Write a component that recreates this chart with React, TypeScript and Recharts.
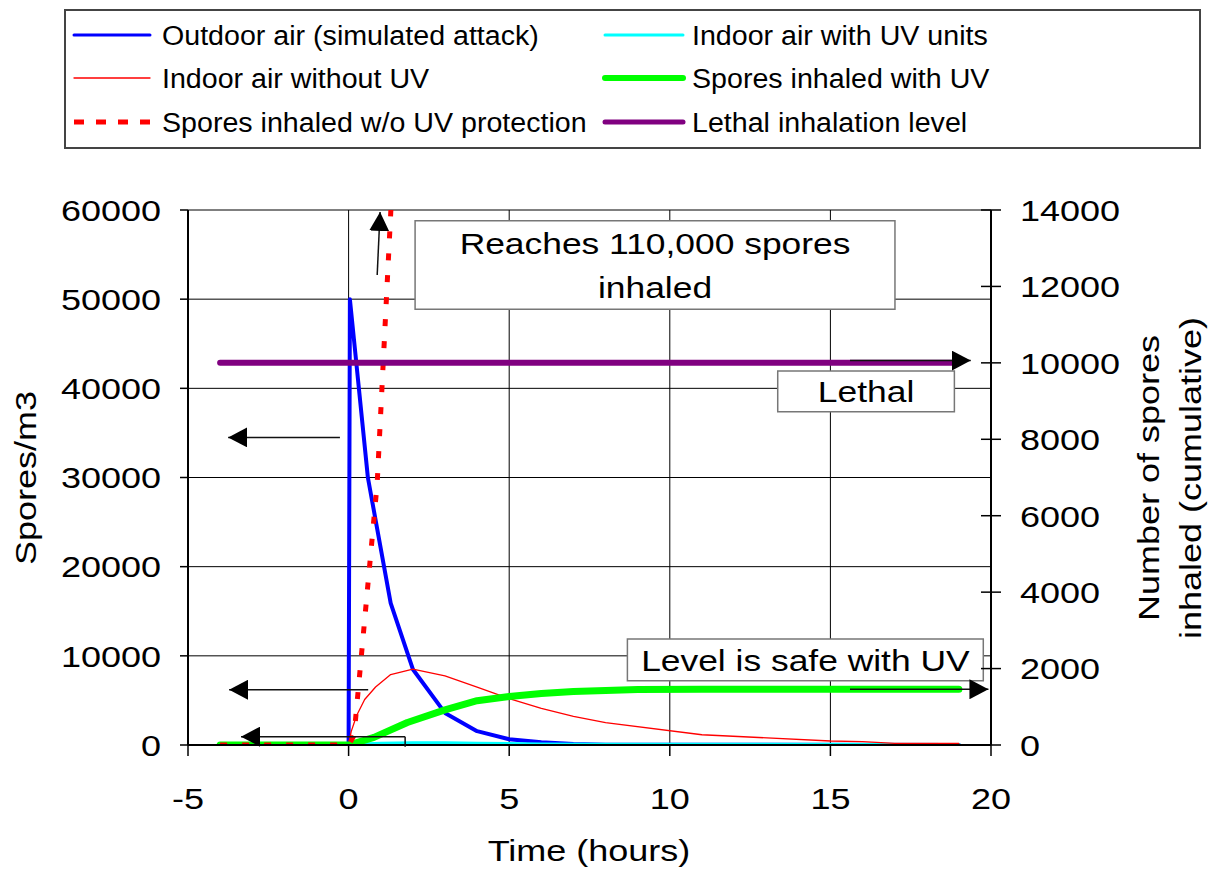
import {
  ComposedChart,
  Line,
  XAxis,
  YAxis,
  CartesianGrid,
  ReferenceLine,
  ReferenceArea,
} from "recharts";

const FONT = "'Liberation Sans', Arial, Helvetica, sans-serif";
// the original text is drawn slightly wide, so every label gets a horizontal stretch
const STRETCH = 1.2;

const timeTicks = [-5, 0, 5, 10, 15, 20];
const concTicks = [0, 10000, 20000, 30000, 40000, 50000, 60000];
const inhaledTicks = [0, 2000, 4000, 6000, 8000, 10000, 12000, 14000];

// Outdoor air (simulated attack), spores/m3
const outdoorT = [-4, 0, 0.04, 0.6, 1.31, 2, 3, 4, 5, 6, 7, 8, 19];
const outdoorV = [0, 0, 50000, 30000, 15900, 8500, 3600, 1550, 650, 300, 100, 30, 0];

// Indoor air with UV units, spores/m3
const indoorUvT = [-4, 0, 1, 2, 3, 4, 5, 6, 8, 19];
const indoorUvV = [0, 0, 150, 200, 200, 150, 100, 60, 30, 10];

// Indoor air without UV, spores/m3
const indoorT = [-4, 0, 0.08, 0.25, 0.5, 0.84, 1.31, 2, 3, 4, 5, 6, 7, 8, 11, 15, 16, 17, 19];
const indoorV = [0, 0, 1500, 3300, 5100, 6500, 7900, 8500, 7750, 6500, 5200, 4100, 3200, 2500, 1150, 450, 380, 190, 180];

// Spores inhaled with UV (cumulative)
const inhaledUvT = [-4, 0, 0.79, 1.83, 3, 4, 5, 6, 7, 9, 11, 19];
const inhaledUvV = [0, 0, 200, 590, 920, 1160, 1270, 1350, 1400, 1450, 1460, 1460];

// Spores inhaled w/o UV protection (cumulative), runs off the top towards 110,000
const inhaledT = [-4, 0, 0.17, 0.89, 1.31, 2, 3, 4, 5, 7, 10, 19];
const inhaledV = [0, 0, 250, 6850, 13900, 26000, 42000, 58000, 72000, 90000, 103000, 110000];

// Lethal inhalation level
const lethalT = [-4, 19];
const lethalV = [10000, 10000];

// annotation arrows [t1, v1, t2, v2], head on the second point
const leftArrows = [
  [-0.27, 34500, -3.75, 34500],
  [0.61, 6200, -3.72, 6200],
  [1.76, 930, -3.35, 930],
];
const rightArrows = [
  [0.89, 12300, 0.98, 13950],
  [15.61, 10060, 19.37, 10060],
  [15.61, 1458, 19.92, 1458],
];

const toPoints = (t: number[], v: number[]) => t.map((x, i) => ({ t: x, v: v[i] }));

const series = [
  { name: "Outdoor air (simulated attack)", t: outdoorT, v: outdoorV, axis: "left", color: "#0000FF", width: 4, dash: undefined },
  { name: "Indoor air with UV units", t: indoorUvT, v: indoorUvV, axis: "left", color: "#00FFFF", width: 4, dash: undefined },
  { name: "Indoor air without UV", t: indoorT, v: indoorV, axis: "left", color: "#FF0000", width: 1.3, dash: undefined },
  { name: "Spores inhaled with UV", t: inhaledUvT, v: inhaledUvV, axis: "right", color: "#00FF00", width: 7, dash: undefined },
  { name: "Spores inhaled w/o UV protection", t: inhaledT, v: inhaledV, axis: "right", color: "#FF0000", width: 5, dash: "7 15" },
  { name: "Lethal inhalation level", t: lethalT, v: lethalV, axis: "right", color: "#800080", width: 6, dash: undefined },
];

function SText({ x, y, children, anchor = "middle", size = 30, sx = STRETCH, rotate = 0 }: any) {
  return (
    <text
      transform={`translate(${x},${y}) rotate(${rotate}) scale(${sx},1)`}
      x={0}
      y={size * 0.36}
      textAnchor={anchor}
      fontFamily={FONT}
      fontSize={size}
      fill="#000"
    >
      {children}
    </text>
  );
}

const LeftTick = ({ x, y, payload }: any) => (
  <g>
    <line x1={x - 8} x2={x} y1={y} y2={y} stroke="#000" strokeWidth={1.5} />
    <SText x={x - 27} y={y} anchor="end">{payload.value}</SText>
  </g>
);

const RightTick = ({ x, y, payload }: any) => (
  <g>
    <line x1={x - 10} x2={x + 10} y1={y} y2={y} stroke="#000" strokeWidth={1.5} />
    <SText x={x + 29} y={y} anchor="start">{payload.value}</SText>
  </g>
);

const BottomTick = ({ x, y, payload }: any) => (
  <g>
    <line x1={x} x2={x} y1={y} y2={y + 11} stroke="#000" strokeWidth={1.5} />
    <SText x={x} y={y + 53} anchor="middle">{payload.value}</SText>
  </g>
);

const arrowShape = (p: any) => (
  <line x1={p.x1} y1={p.y1} x2={p.x2} y2={p.y2} stroke="#111" strokeWidth={1.5} markerEnd="url(#arrowHead)" />
);

const boxLabel = (lines: string[]) => (p: any) => {
  const vb = p.viewBox;
  const cx = vb.x + vb.width / 2;
  const cy = vb.y + vb.height / 2;
  return (
    <g>
      {lines.map((s, i) => (
        <SText key={s} x={cx} y={cy + (i - (lines.length - 1) / 2) * 44} sx={1.18}>{s}</SText>
      ))}
    </g>
  );
};

function LegendBox() {
  const rows = [35, 78, 122];
  const cols = [
    { x1: 74, x2: 150, tx: 162 },
    { x1: 605, x2: 683, tx: 692 },
  ];
  return (
    <svg width={1211} height={160} style={{ position: "absolute", left: 0, top: 0 }}>
      <rect x={65} y={10} width={1135} height={138} fill="#fff" stroke="#444" strokeWidth={2} />
      {series.map((s, i) => {
        const c = cols[i % 2];
        const y = rows[Math.floor(i / 2)];
        return (
          <g key={s.name}>
            <line
              x1={c.x1}
              x2={c.x2}
              y1={y}
              y2={y}
              stroke={s.color}
              strokeWidth={s.dash ? 5 : Math.max(s.width - 1, 1.3)}
              strokeDasharray={s.dash ? "10 12" : undefined}
              strokeLinecap={s.dash ? "butt" : "round"}
            />
            <SText x={c.tx} y={y} anchor="start" size={27} sx={1.06}>{s.name}</SText>
          </g>
        );
      })}
    </svg>
  );
}

export default function App() {
  return (
    <div style={{ position: "absolute", left: 0, top: 0, width: 1211, height: 872, background: "#fff" }}>
      <ComposedChart
        width={1211}
        height={872}
        margin={{ top: 210, right: 90, bottom: 67, left: 68 }}
        style={{ fontFamily: FONT }}
      >
        <defs>
          <marker
            id="arrowHead"
            markerUnits="userSpaceOnUse"
            markerWidth={20}
            markerHeight={20}
            refX={19}
            refY={10}
            orient="auto"
          >
            <path d="M0,0 L19,10 L0,20 Z" fill="#000" />
          </marker>
        </defs>
        <CartesianGrid yAxisId="left" stroke="#000" strokeWidth={1} />
        <XAxis
          type="number"
          dataKey="t"
          domain={[-5, 20]}
          ticks={timeTicks}
          interval={0}
          allowDataOverflow
          height={60}
          tickSize={0}
          tickMargin={0}
          tickLine={false}
          axisLine={{ stroke: "#000", strokeWidth: 2 }}
          tick={(p: any) => <BottomTick {...p} />}
          label={{ content: () => <SText x={589} y={850}>Time (hours)</SText> }}
        />
        <YAxis
          yAxisId="left"
          type="number"
          domain={[0, 60000]}
          ticks={concTicks}
          interval={0}
          allowDataOverflow
          width={120}
          tickSize={0}
          tickMargin={0}
          tickLine={false}
          axisLine={{ stroke: "#000", strokeWidth: 2 }}
          tick={(p: any) => <LeftTick {...p} />}
          label={{ content: () => <SText x={25} y={478} rotate={-90}>Spores/m3</SText> }}
        />
        <YAxis
          yAxisId="right"
          orientation="right"
          type="number"
          domain={[0, 14000]}
          ticks={inhaledTicks}
          interval={0}
          allowDataOverflow
          width={130}
          tickSize={0}
          tickMargin={0}
          tickLine={false}
          axisLine={{ stroke: "#000", strokeWidth: 2 }}
          tick={(p: any) => <RightTick {...p} />}
          label={{
            content: () => (
              <g>
                <SText x={1148} y={478} rotate={-90}>Number of spores</SText>
                <SText x={1190} y={478} rotate={-90}>inhaled (cumulative)</SText>
              </g>
            ),
          }}
        />

        <ReferenceArea
          yAxisId="left"
          x1={2.07}
          x2={17.01}
          y1={48860}
          y2={58800}
          fill="#fff"
          fillOpacity={1}
          stroke="#777"
          strokeWidth={1.5}
          label={boxLabel(["Reaches 110,000 spores", "inhaled"])}
        />
        <ReferenceArea
          yAxisId="left"
          x1={13.36}
          x2={18.86}
          y1={37380}
          y2={41940}
          fill="#fff"
          fillOpacity={1}
          stroke="#777"
          strokeWidth={1.5}
          label={boxLabel(["Lethal"])}
        />
        <ReferenceArea
          yAxisId="left"
          x1={8.68}
          x2={19.76}
          y1={7210}
          y2={11890}
          fill="#fff"
          fillOpacity={1}
          stroke="#777"
          strokeWidth={1.5}
          label={boxLabel(["Level is safe with UV"])}
        />

        {series.map((s) => (
          <Line
            key={s.name}
            name={s.name}
            data={toPoints(s.t, s.v)}
            dataKey="v"
            yAxisId={s.axis}
            type="linear"
            stroke={s.color}
            strokeWidth={s.width}
            strokeDasharray={s.dash}
            strokeLinecap={s.dash ? "butt" : "round"}
            strokeLinejoin="round"
            dot={false}
            activeDot={false}
            isAnimationActive={false}
          />
        ))}

        {leftArrows.map((a, i) => (
          <ReferenceLine
            key={`la${i}`}
            yAxisId="left"
            segment={[{ x: a[0], y: a[1] }, { x: a[2], y: a[3] }]}
            ifOverflow="visible"
            shape={arrowShape}
            zIndex={1000}
          />
        ))}
        <ReferenceLine
          yAxisId="left"
          segment={[{ x: 1.76, y: 930 }, { x: 1.76, y: -200 }]}
          ifOverflow="visible"
          stroke="#111"
          strokeWidth={1.5}
          zIndex={1000}
        />
        {rightArrows.map((a, i) => (
          <ReferenceLine
            key={`ra${i}`}
            yAxisId="right"
            segment={[{ x: a[0], y: a[1] }, { x: a[2], y: a[3] }]}
            ifOverflow="visible"
            shape={arrowShape}
            zIndex={1000}
          />
        ))}
      </ComposedChart>
      <LegendBox />
    </div>
  );
}
